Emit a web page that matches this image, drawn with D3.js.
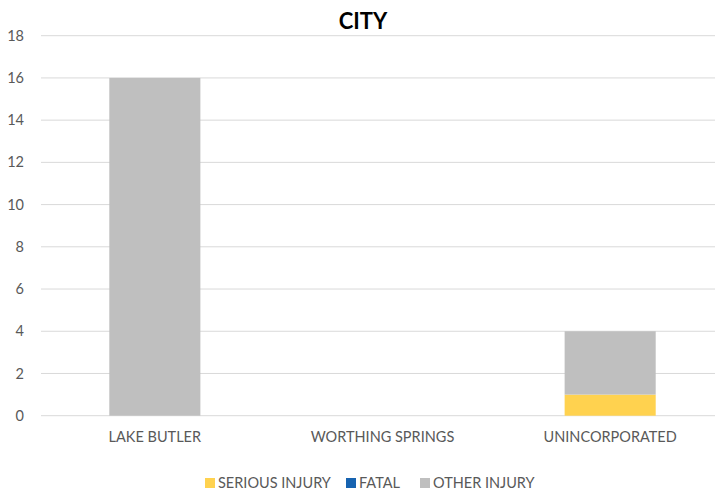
<!DOCTYPE html>
<html>
<head>
<meta charset="utf-8">
<script src="https://cdn.jsdelivr.net/npm/d3@7.9.0/dist/d3.min.js"></script>
<style>
  body { margin: 0; background: #fff; }
  svg { display: block; font-family: Lato, 'Open Sans', sans-serif; }
</style>
</head>
<body>
<div id="chart"></div>
<script>
const cities = ['LAKE BUTLER', 'WORTHING SPRINGS', 'UNINCORPORATED'];
const seriesNames = ['SERIOUS INJURY', 'FATAL', 'OTHER INJURY'];
const seriousInjury = [0, 0, 1];
const fatal = [0, 0, 0];
const otherInjury = [16, 0, 3];
const yTicks = [0, 2, 4, 6, 8, 10, 12, 14, 16, 18];
const colors = ['#FFD24F', '#1763B0', '#BFBFBF'];

const width = 715, height = 493;
const svg = d3.select('#chart').append('svg')
    .attr('width', width).attr('height', height);

const rows = cities.map((c, i) => ({
    city: c,
    'SERIOUS INJURY': seriousInjury[i],
    'FATAL': fatal[i],
    'OTHER INJURY': otherInjury[i],
}));
const stacked = d3.stack().keys(seriesNames)(rows);

const x = d3.scaleBand().domain(cities).range([41, 724]).paddingInner(0.6).paddingOuter(0.3);
const y = d3.scaleLinear().domain([0, 18]).range([415.7, 35.7]);

// gridlines
svg.append('g')
    .selectAll('line')
    .data(yTicks)
    .join('line')
    .attr('x1', 41).attr('x2', 724)
    .attr('y1', d => y(d)).attr('y2', d => y(d))
    .attr('stroke', '#D9D9D9').attr('stroke-width', 1);

// y labels
svg.append('g')
    .selectAll('text')
    .data(yTicks)
    .join('text')
    .attr('x', 24).attr('y', d => y(d))
    .attr('dy', '0.35em')
    .attr('text-anchor', 'end')
    .attr('font-size', 14.5)
    .attr('fill', '#595959')
    .text(d => d);

// bars
svg.append('g')
    .selectAll('g')
    .data(stacked)
    .join('g')
    .attr('fill', (d, i) => colors[i])
    .selectAll('rect')
    .data(d => d)
    .join('rect')
    .attr('x', d => x(d.data.city))
    .attr('width', x.bandwidth())
    .attr('y', d => y(d[1]))
    .attr('height', d => y(d[0]) - y(d[1]));

// category labels
svg.append('g')
    .selectAll('text')
    .data(cities)
    .join('text')
    .attr('x', d => x(d) + x.bandwidth() / 2)
    .attr('y', 437)
    .attr('dy', '0.35em')
    .attr('text-anchor', 'middle')
    .attr('font-size', 14.5)
    .attr('fill', '#595959')
    .text(d => d);

// title
svg.append('text')
    .attr('x', 363).attr('y', 21)
    .attr('dy', '0.35em')
    .attr('text-anchor', 'middle')
    .attr('font-size', 22)
    .attr('font-weight', 'bold')
    .attr('fill', '#000')
    .text('CITY');

// legend
const legendX = [205, 346, 420];
const legend = svg.append('g')
    .selectAll('g')
    .data(seriesNames)
    .join('g')
    .attr('transform', (d, i) => `translate(${legendX[i]}, 483)`);
legend.append('rect')
    .attr('x', 0).attr('y', -5)
    .attr('width', 10).attr('height', 10)
    .attr('fill', (d, i) => colors[i]);
legend.append('text')
    .attr('x', 13).attr('y', 0)
    .attr('dy', '0.35em')
    .attr('font-size', 14.5)
    .attr('fill', '#595959')
    .text(d => d);
</script>
</body>
</html>
